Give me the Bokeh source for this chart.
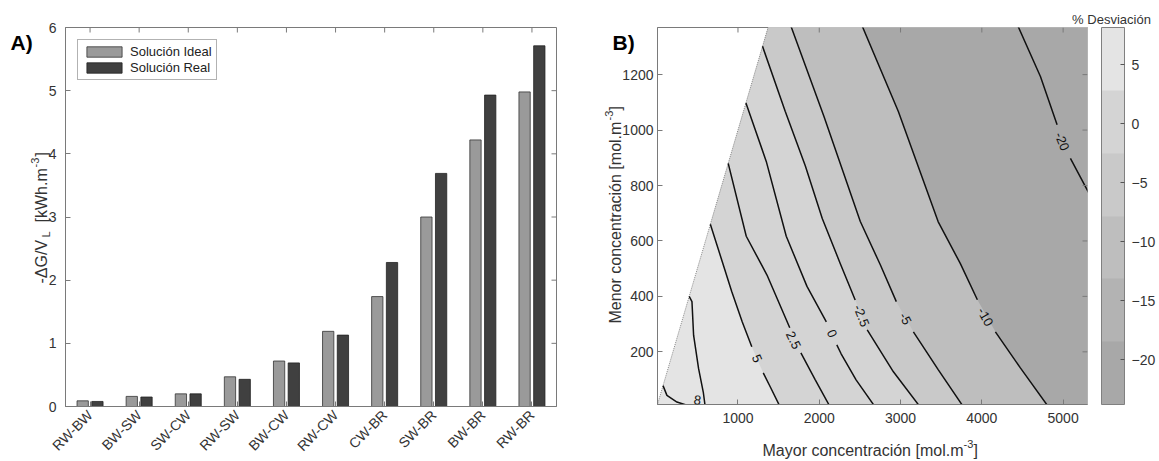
import math
from bokeh.plotting import figure
from bokeh.layouts import row, column
from bokeh.models import (ColumnDataSource, FactorRange, Range1d, Legend, LegendItem,
                          LabelSet, ColorBar, LinearColorMapper, FixedTicker, GridBox)
from bokeh.transform import dodge
from bokeh.core.properties import value
from bokeh.embed import file_html
from bokeh.resources import INLINE

# ---------------- Panel A data ----------------
pairs = ["RW-BW", "BW-SW", "SW-CW", "RW-SW", "BW-CW", "RW-CW", "CW-BR", "SW-BR", "BW-BR", "RW-BR"]
ideal = [0.09, 0.16, 0.20, 0.47, 0.72, 1.19, 1.74, 3.00, 4.22, 4.98]
real = [0.08, 0.15, 0.20, 0.43, 0.69, 1.13, 2.28, 3.69, 4.93, 5.71]
a_yrange = [0, 6]
a_yticks = [0, 1, 2, 3, 4, 5, 6]
legend_names = ["Solución Ideal", "Solución Real"]

# ---------------- Panel B data ----------------
b_xrange = [10, 5300]
b_yrange = [10, 1370]
b_xticks = [1000, 2000, 3000, 4000, 5000]
b_yticks = [200, 400, 600, 800, 1000, 1200]
cbar_ticks = [-20, -15, -10, -5, 0, 5]
cbar_low, cbar_high = -23.8, 8.14
band_colors = ["#a8a8a8", "#b3b3b3", "#bebebe", "#c9c9c9", "#d4d4d4", "#e4e4e4"]  # low -> high

# contour lines (upper part / lower part around the label)
lev8a_x = [78, 126, 249, 372, 450]
lev8a_y = [78, 43, 19, 7, 0]
lev8b_x = [400, 434, 454, 515, 573, 598]
lev8b_y = [400, 381, 260, 140, 55, 0]

lev5_x1 = [660, 807, 924, 1053, 1170]
lev5_y1 = [660, 525, 417, 308, 218]
lev5_x2 = [1311, 1398, 1521]
lev5_y2 = [124, 73, 0]

lev25_x1 = [880, 1102, 1357, 1637]
lev25_y1 = [880, 617, 477, 287]
lev25_x2 = [1774, 1951, 2136]
lev25_y2 = [196, 99, 0]

lev0_x1 = [1098, 1348, 1594, 1849, 2087]
lev0_y1 = [1098, 887, 617, 436, 308]
lev0_x2 = [2216, 2269, 2453, 2690]
lev0_y2 = [225, 193, 99, 0]

levm25_x1 = [1302, 1582, 1828, 2038, 2259, 2442]
levm25_y1 = [1302, 1067, 871, 680, 518, 387]
levm25_x2 = [2590, 2912, 3244]
levm25_y2 = [279, 128, 0]

levm5_x1 = [1639, 2058, 2505, 2751, 2948]
levm5_y1 = [1385, 1049, 670, 514, 381]
levm5_x2 = [3158, 3465, 3777]
levm5_y2 = [272, 135, 0]

levm10_x1 = [2504, 2973, 3462, 3736, 3945]
levm10_y1 = [1392, 1067, 670, 518, 388]
levm10_x2 = [4167, 4474, 4823]
levm10_y2 = [272, 142, 0]

levm20_x1 = [4419, 4721, 4926]
levm20_y1 = [1392, 1193, 1019]
levm20_x2 = [5090, 5296, 5398]
levm20_y2 = [898, 784, 728]

clabel_text = ["8", "5", "2.5", "0", "-2.5", "-5", "-10", "-20"]
clabel_x = [503, 1234, 1684, 2157, 2520, 3059, 4044, 4988]
clabel_y = [26, 176, 242, 266, 330, 320, 326, 959]
clabel_angle = [-8, -66, -64, -66, -68, -62, -61, -68]

# ---------------- style / layout ----------------
FONT = "Liberation Sans"
TXT = "#333333"
AXC = "#7a7a7a"
TICK_PX = 5
W, H = 1159, 461
FA_L, FA_T, FA_W, FA_H = 65, 26, 491, 379
FB_L, FB_T, FB_W, FB_H = 57, 27, 430, 377


def style_axis(ax, size="14px"):
    ax.axis_line_color = AXC
    ax.major_tick_line_color = AXC
    ax.major_tick_in = TICK_PX
    ax.major_tick_out = 0
    ax.minor_tick_line_color = None
    ax.major_label_text_font = FONT
    ax.major_label_text_font_size = size
    ax.major_label_text_color = TXT


# ================= Panel A =================
srcA = ColumnDataSource(dict(cat=pairs, ideal=ideal, real=real))
pA = figure(x_range=FactorRange(*pairs, range_padding=0), y_range=Range1d(*a_yrange),
            frame_width=FA_W, frame_height=FA_H, min_border_left=FA_L, min_border_right=44,
            min_border_top=FA_T, min_border_bottom=56, toolbar_location=None,
            output_backend="svg", outline_line_color=AXC)
pA.grid.visible = False
r1 = pA.vbar(x=dodge("cat", -0.15, range=pA.x_range), top="ideal", width=0.23, source=srcA,
             fill_color="#9a9a9a", line_color="#333333", line_width=0.8)
r2 = pA.vbar(x=dodge("cat", 0.15, range=pA.x_range), top="real", width=0.23, source=srcA,
             fill_color="#404040", line_color="#222222", line_width=0.8)
style_axis(pA.xaxis[0])
pA.xaxis[0].major_label_orientation = math.pi / 4
pA.xaxis[0].major_label_standoff = 6
style_axis(pA.yaxis[0])
pA.yaxis[0].ticker = FixedTicker(ticks=a_yticks)
pA.yaxis[0].major_label_standoff = 9

ay0, ay1 = a_yrange
tA_y = (ay1 - ay0) / FA_H * TICK_PX
tA_x = len(pairs) / FA_W * TICK_PX
pA.segment(x0=pairs, y0=[ay1] * len(pairs), x1=pairs, y1=[ay1 - tA_y] * len(pairs),
           line_color=AXC, line_width=1)
pA.segment(x0=[len(pairs)] * len(a_yticks), y0=a_yticks, x1=[len(pairs) - tA_x] * len(a_yticks),
           y1=a_yticks, line_color=AXC, line_width=1)

legA = Legend(items=[LegendItem(label=legend_names[0], renderers=[r1]),
                     LegendItem(label=legend_names[1], renderers=[r2])],
              location="top_left", margin=12, padding=4, spacing=1, glyph_width=44, glyph_height=13,
              label_text_font=FONT, label_text_font_size="13px", label_text_color="#222222",
              label_standoff=4, border_line_color="#666666", label_height=13)
pA.add_layout(legA)

# ================= Panel B =================
X0, X1 = b_xrange
Y0, Y1 = b_yrange
XE, YT, YB = X1 + 700, Y1 + 130, Y0 - 110

pB = figure(x_range=Range1d(X0, X1), y_range=Range1d(Y0, Y1),
            frame_width=FB_W, frame_height=FB_H, min_border_left=FB_L, min_border_right=72,
            min_border_top=FB_T, min_border_bottom=57, toolbar_location=None,
            output_backend="svg", outline_line_color=AXC)
pB.grid.visible = False

lines = [
    (lev5_x1 + lev5_x2, lev5_y1 + lev5_y2, band_colors[4]),
    (levm25_x1 + levm25_x2, levm25_y1 + levm25_y2, band_colors[3]),
    (levm5_x1 + levm5_x2, levm5_y1 + levm5_y2, band_colors[2]),
    (levm10_x1 + levm10_x2, levm10_y1 + levm10_y2, band_colors[0]),
]

pB.patch([YB, YT, XE, XE], [YB, YT, YT, YB], fill_color=band_colors[5], line_color=None)
for xs, ys, col in lines:
    px = list(xs) + [XE, XE]
    py = list(ys) + [YB, YT]
    if ys[0] < Y1:
        px.append(YT); py.append(YT)
    else:
        px.append(xs[0]); py.append(YT)
    pB.patch(px, py, fill_color=col, line_color=None)

pB.line([Y0, Y1], [Y0, Y1], line_color="#8a8a8a", line_dash="1 1", line_width=1)

segs = [(lev8a_x, lev8a_y), (lev8b_x, lev8b_y),
        (lev5_x1, lev5_y1), (lev5_x2, lev5_y2),
        (lev25_x1, lev25_y1), (lev25_x2, lev25_y2),
        (lev0_x1, lev0_y1), (lev0_x2, lev0_y2),
        (levm25_x1, levm25_y1), (levm25_x2, levm25_y2),
        (levm5_x1, levm5_y1), (levm5_x2, levm5_y2),
        (levm10_x1, levm10_y1), (levm10_x2, levm10_y2),
        (levm20_x1, levm20_y1), (levm20_x2, levm20_y2)]
for xs, ys in segs:
    pB.line(xs, ys, line_color="#111111", line_width=1.5)

clab = ColumnDataSource(dict(x=clabel_x, y=clabel_y, t=clabel_text, a=clabel_angle))
pB.add_layout(LabelSet(x="x", y="y", text="t", angle="a", angle_units="deg", source=clab,
                       text_font=value(FONT), text_font_size="13px", text_color="#111111",
                       text_align="center", text_baseline="middle"))

style_axis(pB.xaxis[0])
pB.xaxis[0].ticker = FixedTicker(ticks=b_xticks)
pB.xaxis[0].major_label_standoff = 8
style_axis(pB.yaxis[0])
pB.yaxis[0].ticker = FixedTicker(ticks=b_yticks)
pB.yaxis[0].major_label_standoff = 4

tB_y = (Y1 - Y0) / FB_H * TICK_PX
tB_x = (X1 - X0) / FB_W * TICK_PX
pB.segment(x0=b_xticks, y0=[Y1] * len(b_xticks), x1=b_xticks, y1=[Y1 - tB_y] * len(b_xticks),
           line_color=AXC, line_width=1)
pB.segment(x0=[X1] * len(b_yticks), y0=b_yticks, x1=[X1 - tB_x] * len(b_yticks), y1=b_yticks,
           line_color=AXC, line_width=1)

mapper = LinearColorMapper(palette=band_colors, low=cbar_low, high=cbar_high)
cb = ColorBar(color_mapper=mapper, ticker=FixedTicker(ticks=cbar_ticks), width=23, height=FB_H,
              padding=0, margin=0, label_standoff=7, major_label_text_font=FONT,
              major_label_text_font_size="14px", major_label_text_color=TXT,
              major_tick_line_color="#555555", major_tick_in=4, major_tick_out=0,
              bar_line_color="#808080", background_fill_alpha=0, border_line_color=None,
              location=(14, 0))
pB.add_layout(cb, "right")

# ================= transparent overlay with the free texts =================
ov = figure(width=W, height=H, x_range=Range1d(0, W), y_range=Range1d(H, 0), min_border=0,
            toolbar_location=None, output_backend="svg", x_axis_type=None, y_axis_type=None,
            background_fill_color=None, border_fill_color=None, outline_line_color=None)
ov.grid.visible = False


def otext(t, x, y, size="16px", angle=0, bold=False, align="left"):
    ov.text(x=[x], y=[y], text=[t], angle=angle, angle_units="deg", text_font=value(FONT),
            text_font_size=size, text_font_style="bold" if bold else "normal",
            text_color="#000000" if bold else TXT, text_align=align,
            text_baseline="alphabetic")


otext("A)", 10, 42, size="21px", bold=True)
otext("-\u0394G/V", 41, 283, angle=90)
otext("L", 45, 237, size="11px", angle=90)
otext("[kWh.m", 41, 222, angle=90)
otext("-3", 34, 167, size="11px", angle=90)
otext("]", 41, 156, angle=90)

otext("B)", 612, 42, size="21px", bold=True)
otext("% Desviación", 1111, 19, size="13px", align="center")
otext("Mayor concentración [mol.m", 762, 450)
otext("-3", 963, 443, size="11px")
otext("]", 973, 450)
otext("Menor concentración [mol.m", 615, 323, angle=90)
otext("-3", 608, 120, size="11px", angle=90)
otext("]", 615, 110, angle=90)

layout = GridBox(children=[(row(pA, pB), 0, 0), (column(ov), 0, 0)])
open("out.html", "w").write(file_html(layout, INLINE))
